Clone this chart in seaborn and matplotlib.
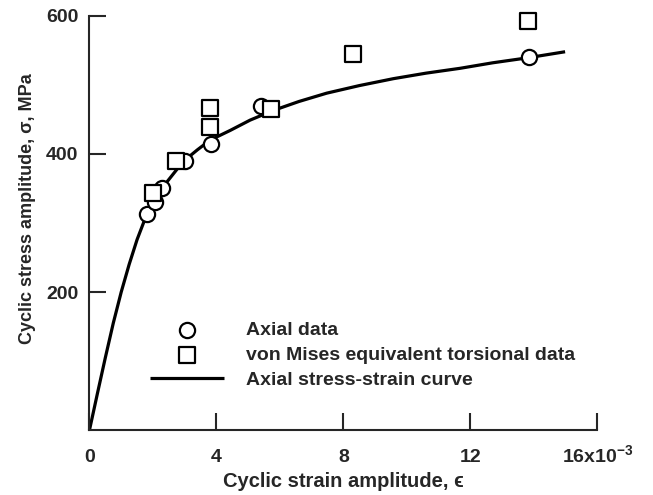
import pandas as pd
import seaborn as sns
import matplotlib.pyplot as plt

# Осевые данные (кружки)
axial_strain = [1.80, 2.06, 2.29, 3.01, 3.82, 5.39, 13.85]
axial_stress = [313, 331, 350, 390, 414, 470, 541]

# Эквивалентные по Мизесу данные кручения (квадраты)
tors_strain = [2.01, 2.71, 3.80, 3.80, 5.71, 8.31, 13.82]
tors_stress = [343, 390, 466, 439, 465, 545, 593]

# Осевая кривая напряжение-деформация
curve_strain = [0, 0.25, 0.5, 0.75, 1.0, 1.25, 1.5, 1.8, 2.0, 2.38, 2.95, 3.4, 3.8,
                4.43, 5.06, 5.79, 6.6, 7.47, 8.5, 9.57, 10.6, 11.67, 12.7, 13.77, 14.98]
curve_stress = [0, 53, 105, 155, 200, 240, 276, 312, 331, 356, 389, 406, 420,
                434, 449, 463, 476, 488, 499, 509, 517, 524, 532, 539, 548]

x_ticks = [0, 4, 8, 12, 16]
x_labels = ['0', '4', '8', '12', r'16x10$^{-3}$']
y_ticks = [200, 400, 600]

df_axial = pd.DataFrame({'strain': axial_strain, 'stress': axial_stress})
df_tors = pd.DataFrame({'strain': tors_strain, 'stress': tors_stress})
df_curve = pd.DataFrame({'strain': curve_strain, 'stress': curve_stress})

sns.set_style('ticks')
plt.rcParams['font.family'] = ['Liberation Sans', 'DejaVu Sans']
plt.rcParams['font.weight'] = 'bold'
plt.rcParams['mathtext.fontset'] = 'custom'
plt.rcParams['mathtext.rm'] = 'Liberation Sans:bold'
plt.rcParams['mathtext.default'] = 'rm'

fig = plt.figure(figsize=(6.53, 4.95), dpi=100)
ax = fig.add_axes([0.137, 0.131, 0.778, 0.837])

sns.lineplot(data=df_curve, x='strain', y='stress', color='black', linewidth=2.3,
             sort=False, estimator=None, label='Axial stress-strain curve', ax=ax,
             solid_joinstyle='round', solid_capstyle='butt')
sns.scatterplot(data=df_axial, x='strain', y='stress', marker='o', s=120,
                facecolor='white', edgecolor='black', linewidth=1.6, zorder=3,
                clip_on=False, label='Axial data', ax=ax)
sns.scatterplot(data=df_tors, x='strain', y='stress', marker='s', s=140,
                facecolor='white', edgecolor='black', linewidth=1.6, zorder=3,
                clip_on=False, label='von Mises equivalent torsional data', ax=ax)

ax.set_xlim(0, 16)
ax.set_ylim(0, 600)
ax.set_xticks(x_ticks)
ax.set_xticklabels(x_labels)
ax.set_yticks(y_ticks)

sns.despine(ax=ax)
for s in ['left', 'bottom']:
    ax.spines[s].set_linewidth(1.5)
ax.tick_params(axis='both', direction='in', length=12, width=1.5, labelsize=14)
ax.tick_params(axis='x', pad=23)
ax.tick_params(axis='y', pad=8)
for lbl in ax.get_xticklabels():
    lbl.set_verticalalignment('baseline')
for lbl in ax.get_xticklabels() + ax.get_yticklabels():
    lbl.set_fontweight('bold')

ax.set_xlabel('Cyclic strain amplitude, ϵ', fontsize=14.5, fontweight='bold')
ax.set_ylabel('Cyclic stress amplitude, σ, MPa', fontsize=13, fontweight='bold')
ax.xaxis.set_label_coords(0.5, -0.1)
ax.yaxis.set_label_coords(-0.106, 0.534)

handles, labels = ax.get_legend_handles_labels()
order = [1, 2, 0]
ax.legend([handles[i] for i in order], [labels[i] for i in order],
          loc='upper left', bbox_to_anchor=(0.12, 0.262), frameon=False,
          handlelength=3.8, handletextpad=1.1, labelspacing=0.38,
          borderpad=0, borderaxespad=0, prop={'weight': 'bold', 'size': 14})

plt.savefig('out.png', dpi=100)
